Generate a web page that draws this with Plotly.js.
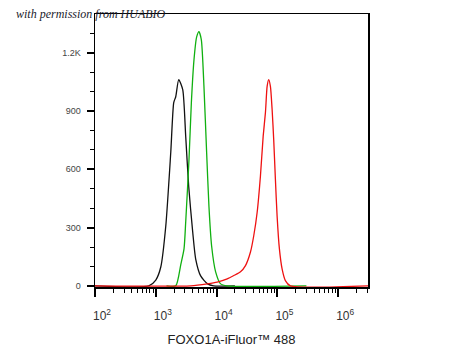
<!DOCTYPE html>
<html>
<head>
<meta charset="utf-8">
<script src="https://cdn.plot.ly/plotly-3.0.1.min.js"></script>
<style>html,body{margin:0;padding:0;background:#fff;}#chart{width:450px;height:360px;}</style>
</head>
<body>
<div id="chart"></div>
<script>
// Fluorescence intensity (x) and cell count (y)
var blackX = [100, 767, 1000, 1208, 1459, 1762, 1972, 2128, 2382, 2773, 3105, 3475, 4046, 4529, 5470, 7112, 8933, 20000];
var blackY = [0, 0, 30, 97, 308, 687, 944, 974, 1062, 1010, 769, 513, 277, 138, 51, 10, 0, 0];

var greenX = [1500, 2128, 2570, 2911, 3105, 3516, 3846, 4246, 4699, 5129, 5610, 6194, 6855, 7482, 8279, 9638, 11641, 14962, 300000];
var greenY = [0, 0, 108, 190, 330, 651, 944, 1164, 1282, 1309, 1267, 1026, 687, 410, 205, 72, 10, 0, 0];

var redX = [100, 3750, 7047, 10257, 14962, 19230, 24717, 29854, 36062, 40832, 46452, 52605, 58345, 63533, 67764, 71945, 76736, 81846, 86896, 92683, 98855, 107895, 119399, 135207, 163305, 3100000];
var redY = [0, 0, 10, 19, 36, 53, 72, 104, 174, 258, 379, 566, 771, 892, 1027, 1062, 1027, 908, 754, 549, 360, 190, 87, 27, 0, 0];

var xTickVals = [100, 1000, 10000, 100000, 1000000];
var xTickText = ["10<sup>2</sup>", "10<sup>3</sup>", "10<sup>4</sup>", "10<sup>5</sup>", "10<sup>6</sup>"];
var xMinorVals = [200, 300, 400, 500, 600, 700, 800, 900,
                  2000, 3000, 4000, 5000, 6000, 7000, 8000, 9000,
                  20000, 30000, 40000, 50000, 60000, 70000, 80000, 90000,
                  200000, 300000, 400000, 500000, 600000, 700000, 800000, 900000,
                  2000000, 3000000];
var yTickVals = [0, 300, 600, 900, 1200];
var yTickText = ["0", "300", "600", "900", "1.2K"];
var yMinorVals = [100, 200, 400, 500, 700, 800, 1000, 1100, 1300];
var xTitle = "FOXO1A-iFluor™ 488";
var watermark = "with permission from HUABIO";

function trace(x, y, color) {
  return {x: x, y: y, type: 'scatter', mode: 'lines',
          line: {color: color, width: 1.3, shape: 'spline', smoothing: 0.6},
          hoverinfo: 'skip', showlegend: false};
}

var data = [
  trace(blackX, blackY, '#111111'),
  trace(greenX, greenY, '#10b010'),
  trace(redX, redY, '#ee1111')
];

var layout = {
  width: 450, height: 360,
  margin: {l: 95, r: 82, t: 14, b: 73},
  paper_bgcolor: '#ffffff', plot_bgcolor: '#ffffff',
  font: {family: 'Liberation Sans, Arial, sans-serif', color: '#222'},
  xaxis: {
    type: 'log', range: [2, 6.49], tickmode: 'array', tickvals: xTickVals, ticktext: xTickText,
    showgrid: false, zeroline: false,
    showline: true, linecolor: '#000', linewidth: 1.5, mirror: true,
    ticks: 'outside', ticklen: 8, tickwidth: 2, tickcolor: '#000',
    minor: {ticks: 'outside', ticklen: 4, tickwidth: 1, tickcolor: '#000', tickmode: 'array', tickvals: xMinorVals, showgrid: false},
    tickfont: {size: 12, color: '#333'},
    ticklabelstandoff: 9, ticklabelshift: 7,
    title: {text: xTitle, font: {size: 13, color: '#222'}, standoff: 13},
    automargin: false
  },
  yaxis: {
    range: [-6, 1400], tickmode: 'array', tickvals: yTickVals, ticktext: yTickText,
    showgrid: false, zeroline: false,
    showline: true, linecolor: '#000', linewidth: 1.5, mirror: true,
    ticks: 'outside', ticklen: 7, tickwidth: 2, tickcolor: '#000',
    minor: {ticks: 'outside', ticklen: 4, tickwidth: 1, tickcolor: '#000', tickmode: 'array', tickvals: yMinorVals, showgrid: false},
    tickfont: {size: 9, color: '#444'},
    ticklabelstandoff: 4,
    automargin: false
  },
  annotations: [{
    text: watermark, xref: 'paper', yref: 'paper',
    x: -0.295, y: 1.0, xanchor: 'left', yanchor: 'middle', showarrow: false,
    font: {family: 'Liberation Serif, Times New Roman, serif', size: 12, color: '#1a1a2a', style: 'italic'}
  }]
};

Plotly.newPlot('chart', data, layout, {staticPlot: true, displayModeBar: false});
</script>
</body>
</html>
